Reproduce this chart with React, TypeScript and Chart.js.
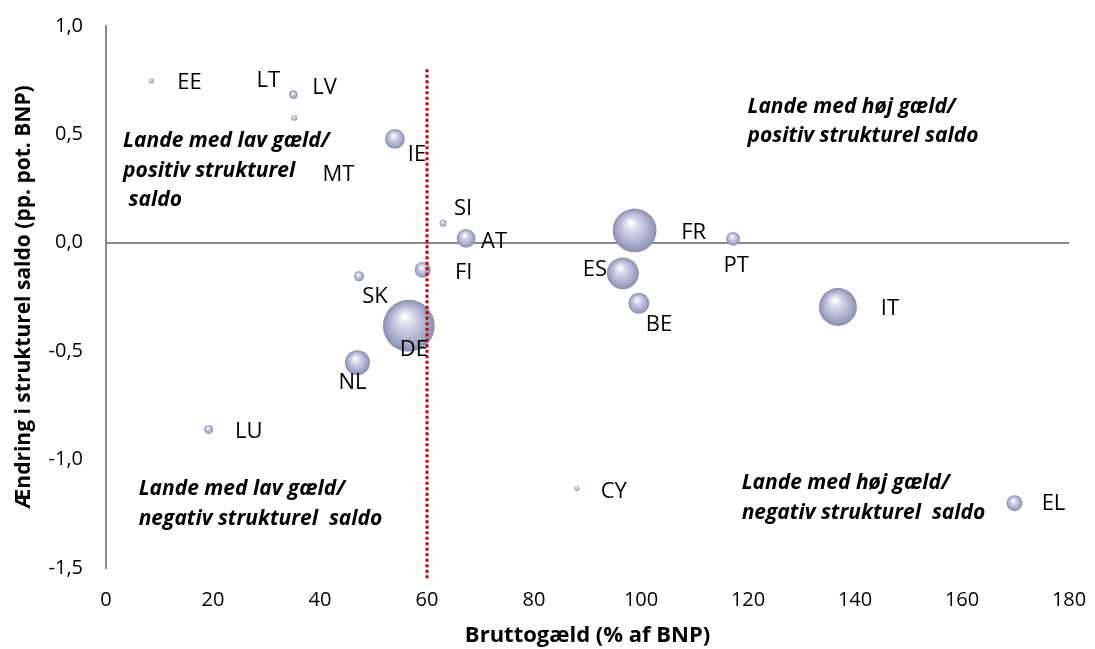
import React, { useEffect, useRef } from 'react';
import { Chart, registerables } from 'chart.js';

Chart.register(...registerables);

// ---- Data -----------------------------------------------------------
const countries = ['EE', 'LT', 'LV', 'MT', 'IE', 'SI', 'AT', 'FI', 'SK', 'DE', 'NL', 'LU', 'CY', 'FR', 'PT', 'ES', 'BE', 'IT', 'EL'];
// Bruttogæld (% af BNP)
const grossDebt = [8.5, 35.0, 35.05, 35.2, 54.0, 63.0, 67.3, 59.2, 47.3, 56.6, 47.0, 19.2, 88.0, 98.8, 117.2, 96.6, 99.6, 136.8, 169.8];
// Ændring i strukturel saldo (pp. pot. BNP)
const structuralChange = [0.746, 0.685, 0.683, 0.576, 0.479, 0.09, 0.02, -0.125, -0.155, -0.383, -0.553, -0.861, -1.133, 0.057, 0.018, -0.141, -0.279, -0.296, -1.201];
// Bubble size (weight in euro area GDP, %)
const gdpWeight = [0.26, 0.66, 0.66, 0.37, 4.1, 0.5, 3.7, 2.65, 1.04, 28, 6.5, 0.84, 0.26, 20, 2.0, 10.6, 4.6, 15, 2.65];

const xTickValues = [0, 20, 40, 60, 80, 100, 120, 140, 160, 180];
const yTickValues = [-1.5, -1.0, -0.5, 0.0, 0.5, 1.0];

const debtThreshold = 60;
const thresholdExtent = [0.8, -1.555];

const quadrantNotes = [
  { x: 3.2, y: 0.467, lines: ['Lande med lav gæld/', 'positiv strukturel', ' saldo'] },
  { x: 119.9, y: 0.627, lines: ['Lande med høj gæld/', 'positiv strukturel saldo'] },
  { x: 6.1, y: -1.137, lines: ['Lande med lav gæld/', 'negativ strukturel  saldo'] },
  { x: 118.8, y: -1.109, lines: ['Lande med høj gæld/', 'negativ strukturel  saldo'] },
];

// label offsets in pixels relative to bubble centre (style)
const labelOffsets: Record<string, [number, number]> = {
  EE: [38, 2], LT: [-25, -13], LV: [31, -7], MT: [44, 57], IE: [22, 16], SI: [20, -15],
  AT: [28, 3], FI: [41, 3], SK: [16, 20], DE: [5, 24], NL: [-5, 20], LU: [40, 2],
  CY: [37, 3], FR: [59, 2], PT: [3, 27], ES: [-28, -4], BE: [20, 21], IT: [52, 2], EL: [39, 1],
};

const FONT = "'Open Sans', 'Noto Sans', sans-serif";
const BUBBLE_SCALE = 4.9;

const fmtComma = (v: number) => v.toFixed(1).replace('.', ',');

const sphereFill = (ctx: any) => {
  const chart = ctx.chart;
  const raw = ctx.raw;
  if (!raw || !chart.chartArea || !chart.scales.x) return '#a9adcb';
  const cx = chart.scales.x.getPixelForValue(raw.x);
  const cy = chart.scales.y.getPixelForValue(raw.y);
  const r = raw.r || 1;
  const g = chart.ctx.createRadialGradient(cx - r * 0.18, cy - r * 0.38, r * 0.04, cx, cy, r);
  g.addColorStop(0, '#ffffff');
  g.addColorStop(0.28, '#d6d9ea');
  g.addColorStop(0.72, '#a9adcc');
  g.addColorStop(1, '#8a8fb0');
  return g;
};

const zeroPadding = (s: any) => {
  s.paddingLeft = 0;
  s.paddingRight = 0;
  s.paddingTop = 0;
  s.paddingBottom = 0;
};

const labelPlugin = {
  id: 'countryLabels',
  afterDatasetDraw(chart: any, args: any) {
    if (args.index !== 0) return;
    const ctx = chart.ctx;
    ctx.save();
    ctx.font = `22px ${FONT}`;
    ctx.fillStyle = '#000';
    ctx.textAlign = 'center';
    ctx.textBaseline = 'middle';
    args.meta.data.forEach((el: any, i: number) => {
      const name = countries[i];
      const [dx, dy] = labelOffsets[name] || [0, 0];
      ctx.fillText(name, el.x + dx, el.y + dy);
    });
    ctx.restore();
  },
};

const notesPlugin = {
  id: 'quadrantNotes',
  afterDatasetsDraw(chart: any) {
    const ctx = chart.ctx;
    const xs = chart.scales.x;
    const ys = chart.scales.y;
    ctx.save();
    ctx.font = `italic bold 21px ${FONT}`;
    ctx.fillStyle = '#000';
    ctx.textAlign = 'left';
    ctx.textBaseline = 'middle';
    quadrantNotes.forEach((n) => {
      const x = xs.getPixelForValue(n.x);
      const y = ys.getPixelForValue(n.y);
      n.lines.forEach((line, i) => ctx.fillText(line, x, y + i * 29.5));
    });
    ctx.restore();
  },
};

export default function App() {
  const canvasRef = useRef<HTMLCanvasElement | null>(null);

  useEffect(() => {
    if (!canvasRef.current) return;
    const bubbles = countries.map((c, i) => ({
      x: grossDebt[i],
      y: structuralChange[i],
      r: BUBBLE_SCALE * Math.sqrt(gdpWeight[i]),
    }));

    const chart = new Chart(canvasRef.current, {
      type: 'bubble',
      data: {
        datasets: [
          {
            type: 'bubble',
            label: 'Lande',
            data: bubbles,
            backgroundColor: sphereFill,
            borderWidth: 0,
            order: 1,
          } as any,
          {
            type: 'line',
            label: '60%',
            data: thresholdExtent.map((y) => ({ x: debtThreshold, y })),
            borderColor: '#c00000',
            borderWidth: 3,
            borderDash: [3, 2.5],
            pointRadius: 0,
            fill: false,
            clip: false,
            order: 0,
          } as any,
        ],
      },
      options: {
        animation: false,
        responsive: true,
        maintainAspectRatio: false,
        events: [],
        layout: { padding: { top: 24, right: 22, left: 0, bottom: 0 } },
        plugins: {
          legend: { display: false },
          tooltip: { enabled: false },
        },
        scales: {
          x: {
            type: 'linear',
            min: 0,
            max: 180,
            afterBuildTicks: (s: any) => {
              s.ticks = xTickValues.map((v) => ({ value: v }));
            },
            afterFit: (s: any) => {
              s.height = 81;
              zeroPadding(s);
            },
            grid: { display: false, drawTicks: false },
            border: { display: false },
            ticks: {
              font: { family: FONT, size: 20 },
              color: '#000',
              padding: 20,
              maxRotation: 0,
              autoSkip: false,
            },
            title: {
              display: true,
              text: 'Bruttogæld (% af BNP)',
              font: { family: FONT, size: 22, weight: 'bold' },
              color: '#000',
              padding: { top: 0, bottom: 0 },
            },
          },
          y: {
            type: 'linear',
            min: -1.5,
            max: 1.0,
            afterBuildTicks: (s: any) => {
              s.ticks = yTickValues.map((v) => ({ value: v }));
            },
            afterFit: (s: any) => {
              s.width = 106;
              zeroPadding(s);
            },
            grid: {
              color: (c: any) => (c.tick && c.tick.value === 0 ? '#898989' : 'rgba(0,0,0,0)'),
              lineWidth: 2,
              drawTicks: false,
            },
            border: { display: true, color: '#898989', width: 2 },
            ticks: {
              font: { family: FONT, size: 20 },
              color: '#000',
              padding: 23,
              callback: (v: any) => fmtComma(Number(v)),
            },
            title: {
              display: true,
              text: 'Ændring i strukturel saldo (pp. pot. BNP)',
              font: { family: FONT, size: 21, weight: 'bold' },
              color: '#000',
              padding: { top: 11, bottom: 0 },
            },
          },
        },
      } as any,
      plugins: [labelPlugin, notesPlugin],
    });
    return () => chart.destroy();
  }, []);

  return (
    <div style={{ position: 'absolute', left: 0, top: 0, width: 1095, height: 649, background: '#fff' }}>
      <canvas ref={canvasRef} />
    </div>
  );
}
